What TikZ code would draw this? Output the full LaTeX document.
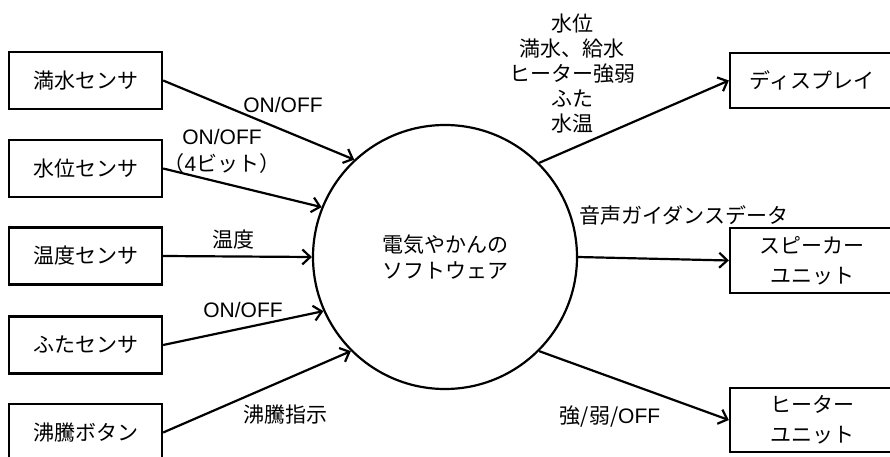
\documentclass[tikz,border=0pt]{standalone}
\usepackage{fontspec}
\setmainfont{Noto Sans CJK JP}
\newfontfamily\lat{Liberation Sans}
\usetikzlibrary{arrows.meta}
\begin{document}
\begin{tikzpicture}[x=1pt,y=-1pt,
  font=\fontsize{21}{25}\selectfont,
  lbox/.style={draw,line width=2.3pt,minimum width=153pt,minimum height=57pt,inner sep=0pt},
  rbox/.style={draw,line width=2.3pt,minimum width=164pt,inner sep=0pt,align=center,font=\fontsize{21}{30}\selectfont},
  proc/.style={draw,circle,line width=2.2pt,minimum size=264pt,inner sep=0pt,align=center,font=\fontsize{21}{26}\selectfont},
  arr/.style={line width=2.2pt,-{Straight Barb[length=8pt,width=15pt,line width=2.2pt]}},
  lab/.style={inner sep=0pt,align=center}]
\useasboundingbox (0,0) rectangle (890,457);
\node[lbox] (b1) at (85.5,80.5) {満水センサ};
\node[lbox] (b2) at (85.5,168.5) {水位センサ};
\node[lbox] (b3) at (85.5,256) {温度センサ};
\node[lbox] (b4) at (85.5,345) {ふたセンサ};
\node[lbox] (b5) at (85.5,432.5) {沸騰ボタン};
\node[proc] (c) at (445,257) {電気やかんの\\ソフトウェア};
\node[rbox,minimum height=55pt] (d) at (812,80.5) {ディスプレイ};
\node[rbox,minimum height=65pt] (s) at (812,260.5) {スピーカー\\ユニット};
\node[rbox,minimum height=64pt] (h) at (812,420) {ヒーター\\ユニット};
\draw[arr] (b1.east) -- (c.133.5);
\draw[arr] (b2.east) -- (c.158.7);
\draw[arr] (b3.east) -- (c.180);
\draw[arr] (b4.east) -- (c.204);
\draw[arr] (b5.east) -- (c.225);
\draw[arr] (c.45) -- (d.west);
\draw[arr] (c.0) -- (s.west);
\draw[arr] (c.315) -- (h.west);
\node[lab] (l1) at (283,105) {\lat ON/OFF};
\node[lab,font=\fontsize{21}{27}\selectfont] (l2) at (222,151) {{\lat ON/OFF}\\（{\lat 4}ビット）};
\node[lab] (l3) at (233,240) {温度};
\node[lab] (l4) at (243,310) {\lat ON/OFF};
\node[lab] (l5) at (285,415) {沸騰指示};
\node[lab] (l6) at (572,74) {水位\\満水、給水\\ヒーター強弱\\ふた\\水温};
\node[lab] (l7) at (684,215) {音声ガイダンスデータ};
\node[lab] (l8) at (610,417) {強/弱/{\lat OFF}};
\end{tikzpicture}
\end{document}
